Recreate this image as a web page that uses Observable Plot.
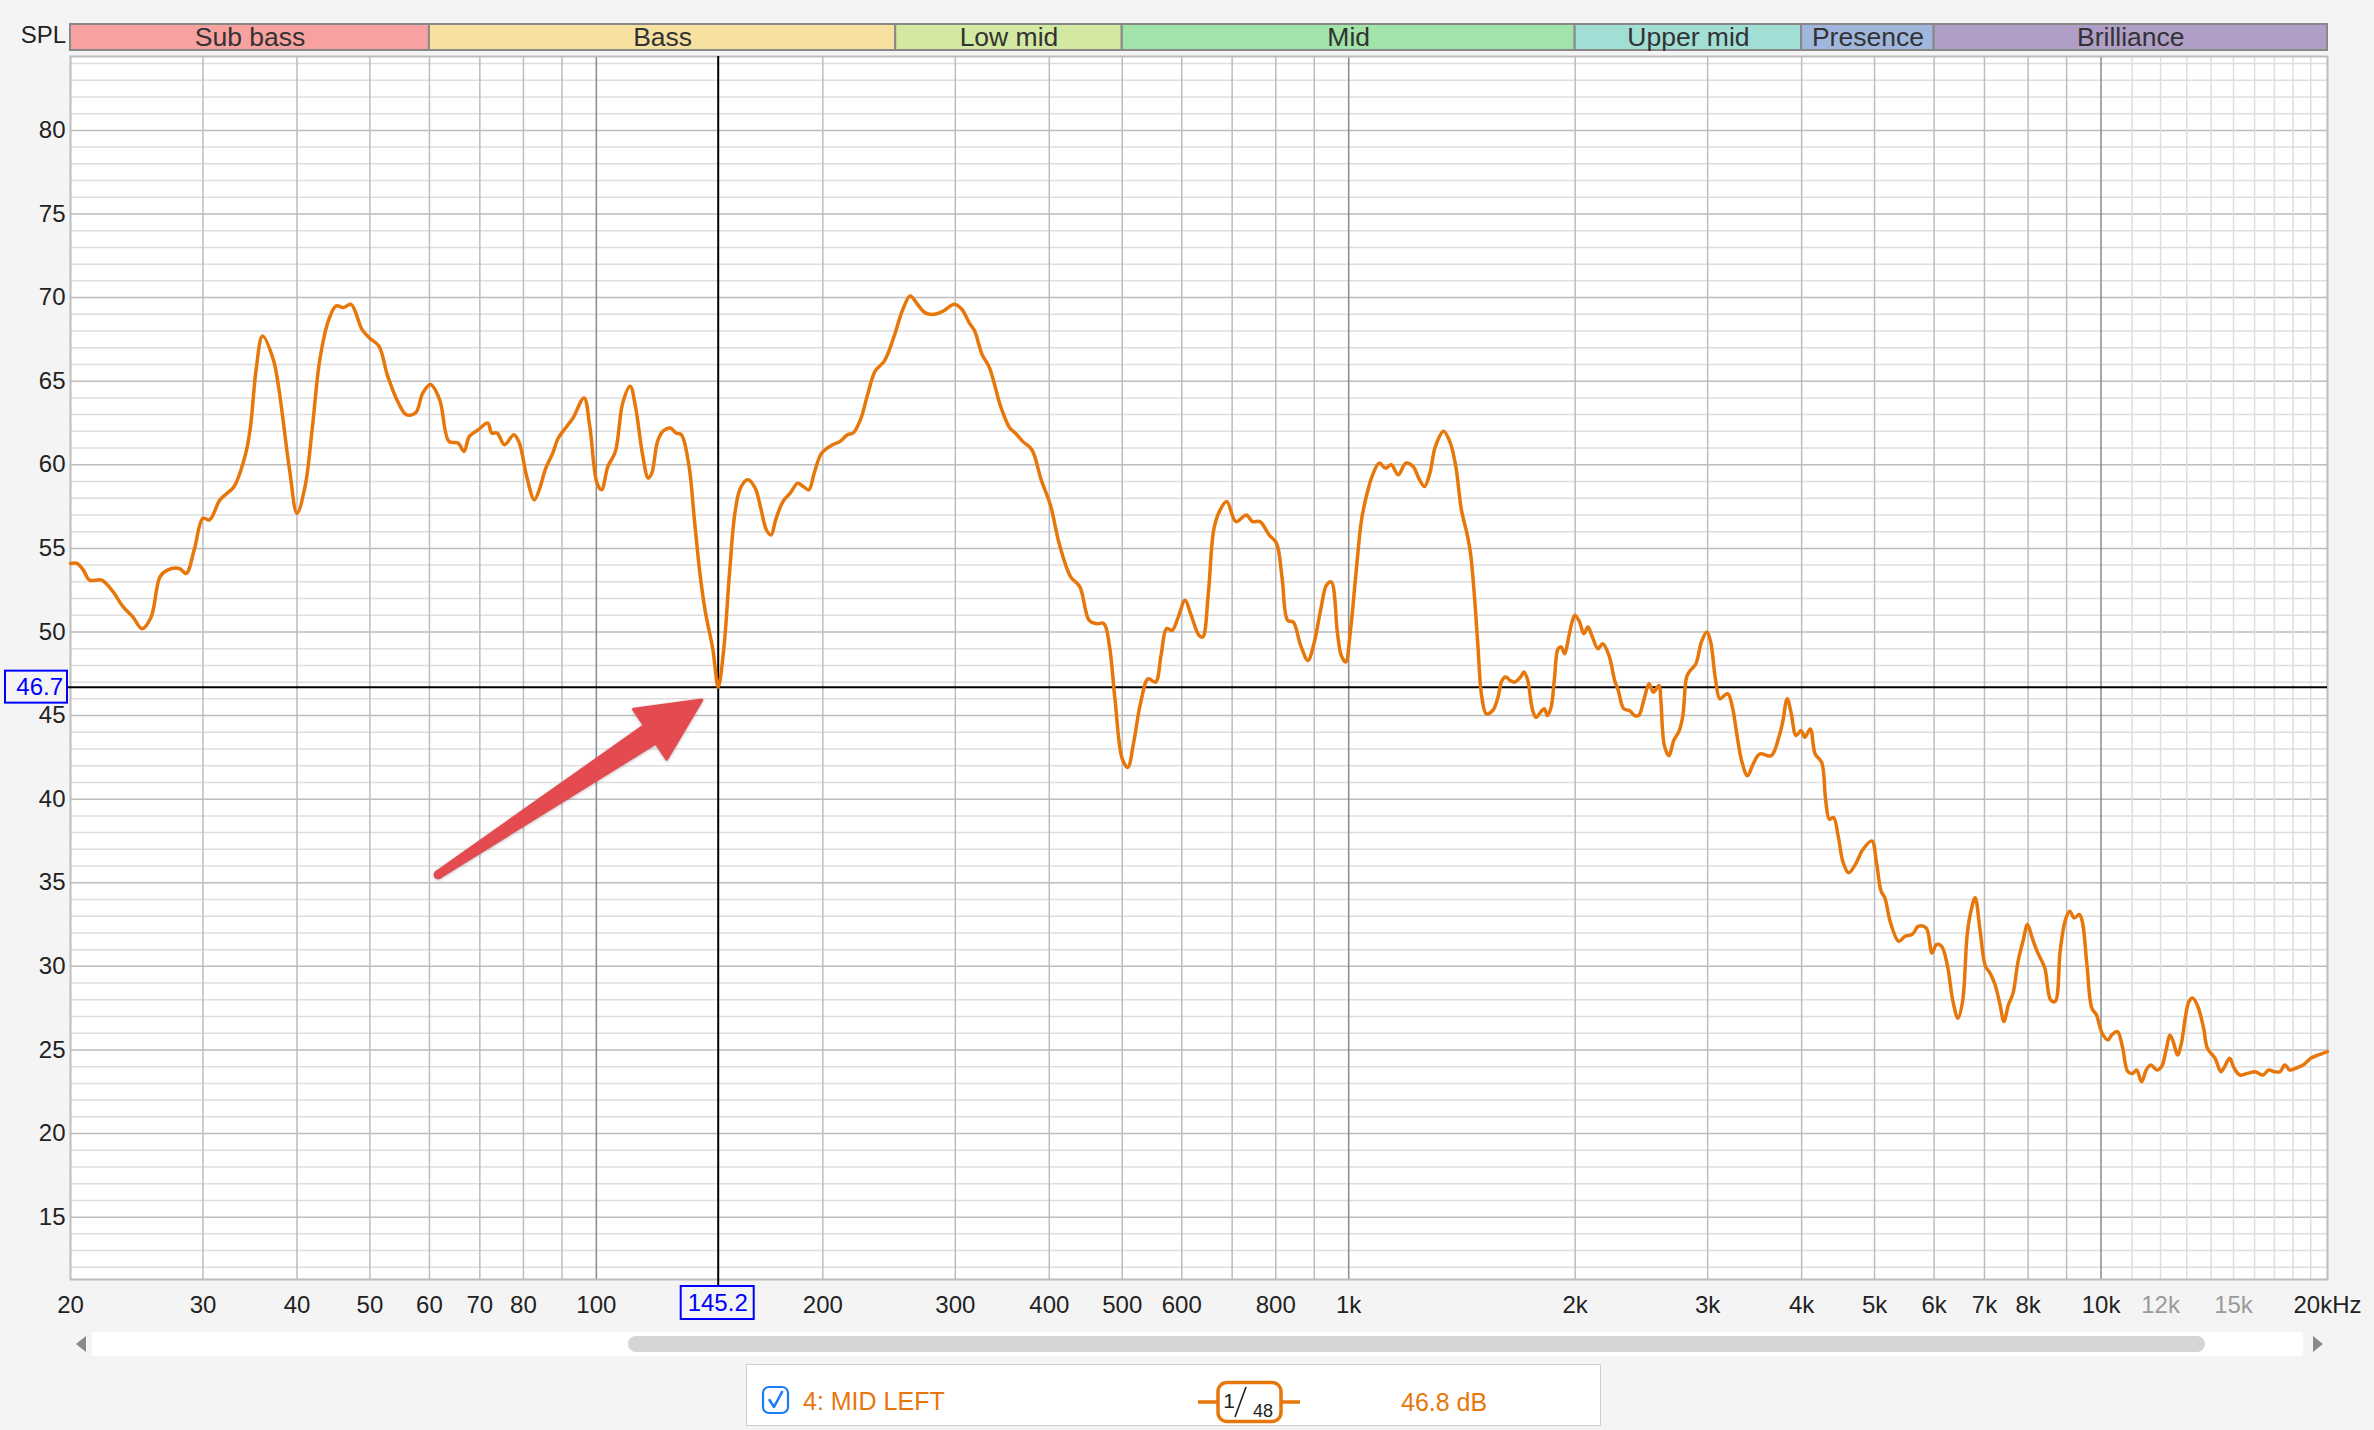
<!DOCTYPE html>
<html>
<head>
<meta charset="utf-8">
<script src="https://cdn.jsdelivr.net/npm/d3@7"></script>
<script src="https://cdn.jsdelivr.net/npm/@observablehq/plot@0.6"></script>
<style>
  html, body { margin: 0; padding: 0; background: #f4f4f4; }
  #root { position: relative; width: 2374px; height: 1430px; overflow: hidden;
          font-family: "Liberation Sans", Arial, Helvetica, sans-serif; }
  .abs { position: absolute; }
</style>
</head>
<body>
<div id="root"></div>
<script>
// ---------------- data ----------------
const bandNames   = ["Sub bass", "Bass", "Low mid", "Mid", "Upper mid", "Presence", "Brilliance"];
const bandEdgesHz = [20, 60, 250, 500, 2000, 4000, 6000, 20000];
const bandColors  = ["#f8a1a1", "#f7e1a0", "#d3e9a2", "#a1e3a9", "#a1ded6", "#a1b6dd", "#b09ec6"];

const yTicks = [15, 20, 25, 30, 35, 40, 45, 50, 55, 60, 65, 70, 75, 80];
const xTickValues = [20, 30, 40, 50, 60, 70, 80, 100, 200, 300, 400, 500, 600, 800, 1000,
                     2000, 3000, 4000, 5000, 6000, 7000, 8000, 10000, 20000];
const xTickLabels = ["20", "30", "40", "50", "60", "70", "80", "100", "200", "300", "400", "500", "600", "800", "1k",
                     "2k", "3k", "4k", "5k", "6k", "7k", "8k", "10k", "20kHz"];
const grayTickValues = [12000, 15000];
const grayTickLabels = ["12k", "15k"];
const gridMainHz = [30, 40, 50, 60, 70, 80, 90, 200, 300, 400, 500, 600, 700, 800, 900,
                    2000, 3000, 4000, 5000, 6000, 7000, 8000, 9000];
const gridDecadeHz = [100, 1000, 10000];
const gridFineHz = [11000, 12000, 13000, 14000, 15000, 16000, 17000, 18000, 19000];

const cursorHz = 145.2;
const cursorDb = 46.7;
const traceName = "4: MID LEFT";
const traceSmoothNum = "1";
const traceSmoothDen = "48";
const traceReading = "46.8 dB";

const arrowTail = [61.7, 35.45];   // [Hz, dB]
const arrowTip  = [138.3, 45.9];

// frequency response [Hz, dB]
const subBassPts = [[20,54.1],[20.4,54.1],[20.8,53.7],[21.2,53.1],[22.0,53.1],[22.7,52.5],[23.5,51.5],[24.2,50.9],[24.9,50.2],[25.6,50.9],[26.3,53.3],[26.9,53.7],[27.9,53.8],[28.5,53.5],[29.2,54.9],[30.0,56.8],[30.6,56.7],[31.6,57.9],[32.5,58.4],[33.0,58.7],[34.2,60.7],[34.7,62.3],[35.3,65.7],[36.0,67.7],[37.2,66.3],[37.8,64.7],[39.1,59.7],[40.0,57.1],[41.0,58.7],[41.9,62.1],[42.9,66.3],[44.1,68.7],[45.1,69.5],[46.1,69.4],[47.2,69.6],[48.8,68.1],[49.9,67.6],[51.4,67.1],[52.8,65.3],[54.7,63.6],[55.9,63.0],[57.5,63.1],[58.8,64.3]];
const bassPts = [[60.2,64.8],[61.9,63.9],[63.7,61.4],[65.5,61.3],[66.7,60.8],[67.8,61.7],[69.7,62.1],[71.7,62.5],[72.6,61.9],[73.8,61.9],[75.5,61.2],[77.7,61.8],[79.0,61.3],[80.8,59.3],[82.7,57.9],[84.1,58.6],[85.5,59.7],[87.5,60.7],[89.0,61.6],[91.0,62.2],[93.1,62.8],[96.3,64.0],[98.0,62.3],[100.2,58.9],[101.6,58.5],[103.6,59.9],[106.0,60.8],[108.4,63.7],[110.9,64.7],[112.7,63.5],[115.2,60.6],[117.2,59.2],[118.5,59.5],[120.6,61.4],[122.6,62.0],[125.4,62.2],[127.6,61.9],[129.7,61.8],[132.7,60.0],[135.0,56.7],[137.3,53.5],[139.6,51.2],[142.8,49.0],[145.2,46.7],[147.7,49.0],[150.3,53.5],[152.8,57.1],[155.4,58.6],[159.0,59.1],[162.6,58.6],[165.4,57.4],[168.3,56.1],[170.7,55.8],[173.1,56.7],[177.0,57.8],[181.0,58.3],[185.2,58.9],[188.4,58.7],[191.6,58.5],[194.8,59.5],[199.3,60.7],[206.1,61.2],[210.9,61.4],[215.7,61.8],[219.4,61.9],[224.4,62.7],[229.4,64.2],[234.7,65.6],[241.4,66.2],[248.4,67.6]];
const lowMidPts = [[255.5,69.3],[261.3,70.1],[267.2,69.6],[273.3,69.1],[281.2,69.0],[289.3,69.2],[299.2,69.6],[306.0,69.3],[313.0,68.5],[318.3,68.0],[325.6,66.6],[333.1,65.8],[344.6,63.5],[354.4,62.2],[360.4,61.9],[368.7,61.4],[379.2,60.9],[390.2,59.1],[401.3,57.6],[412.8,55.2],[427.0,53.3],[439.2,52.7],[451.8,50.7],[462.1,50.5],[472.7,50.5],[480.7,49.2],[489.0,46.0]];
const midPts = [[500.1,42.4],[508.7,41.9],[517.4,43.3],[529.2,45.8],[541.3,47.2],[553.7,47.0],[563.1,48.6],[572.7,50.2],[582.6,50.1],[592.5,50.8],[606.1,51.9],[616.4,51.1],[632.4,49.8],[639.7,49.7],[650.5,52.2],[661.6,56.1],[673.0,57.2],[688.4,57.8],[708.1,56.6],[731.0,57.0],[745.0,56.6],[762.1,56.6],[784.1,55.8],[801.8,55.3],[815.7,53.2],[829.5,50.7],[843.9,50.6],[863.2,49.2],[882.7,48.3],[898.0,49.2],[918.5,51.4],[934.1,52.8],[948.0,53.0],[966.4,49.9],[977.4,48.6],[990.7,48.2],[1005,50.0],[1023,53.6],[1040,56.7],[1058,58.3],[1076,59.4],[1098,60.1],[1119,59.8],[1139,60.0],[1164,59.4],[1191,60.1],[1218,59.9],[1239,59.2],[1261,58.7],[1282,59.5],[1304,61.1],[1337,62.0],[1365,61.3],[1388,59.9],[1412,57.3],[1436,55.9],[1452,54.7],[1469,52.2],[1485,49.2],[1502,46.2],[1524,45.1],[1554,45.3],[1577,46.0],[1599,47.1],[1617,47.3],[1639,47.1],[1663,47.0],[1692,47.3],[1710,47.6],[1730,47.1],[1754,45.4],[1774,44.9],[1806,45.3],[1821,45.4],[1837,45.0],[1858,45.5],[1877,47.2],[1898,49.0],[1916,49.1],[1937,48.7],[1959,49.6],[1981,50.6],[1999,51.0]];
const upperPts = [[2027,50.6],[2054,49.9],[2080,50.3],[2108,49.7],[2144,49.0],[2176,49.3],[2218,48.6],[2257,47.1],[2282,46.5],[2321,45.4],[2361,45.3],[2401,45.0],[2429,45.0],[2470,46.0],[2507,46.9],[2541,46.4],[2585,46.8],[2599,46.0],[2628,43.2],[2665,42.6],[2704,43.5],[2750,44.1],[2781,45.0],[2813,47.3],[2845,47.7],[2894,48.1],[2943,49.4],[2993,50.0],[3028,49.4],[3072,47.2],[3114,46.0],[3157,46.2],[3193,46.3],[3240,45.4],[3277,44.0],[3333,42.2],[3390,41.4],[3448,42.1],[3518,42.7],[3644,42.6],[3730,43.7],[3774,44.6],[3827,46.0],[3872,45.2],[3932,43.8],[3993,44.1],[4039,43.7],[4107,44.2],[4169,42.7],[4253,42.2],[4304,40.0],[4354,38.8],[4410,38.9],[4473,37.8],[4542,36.2],[4618,35.6],[4715,36.1],[4827,37.0],[4959,37.5],[5030,36.2],[5101,34.5],[5160,34.1],[5251,32.6],[5383,31.5],[5491,31.8],[5608,31.9],[5721,32.4],[5856,32.3],[5961,30.8]];
const brillPts = [[6043,31.3],[6137,31.2],[6246,30.1],[6356,27.9],[6454,26.9],[6546,27.9],[6639,31.9],[6716,33.3],[6803,34.1],[6900,32.3],[7021,30.0],[7120,29.6],[7230,28.9],[7342,27.7],[7428,26.7],[7533,27.7],[7640,28.4],[7758,30.3],[7875,31.5],[7986,32.5],[8100,31.7],[8224,30.9],[8418,29.9],[8569,28.0],[8690,27.9],[8824,30.9],[8957,32.7],[9084,33.3],[9213,32.9],[9355,33.1],[9441,32.7],[9578,30.1],[9723,27.5],[9860,27.1],[10034,26.0],[10214,25.6],[10333,25.9],[10515,26.1],[10677,25.2],[10855,23.7],[11022,23.6],[11151,23.8],[11323,23.1],[11484,23.8],[11643,24.1],[11866,23.8],[12034,24.0],[12205,25.0],[12348,25.9],[12492,25.4],[12638,24.7],[12790,25.4],[12939,26.9],[13091,27.9],[13244,28.1],[13448,27.6],[13689,26.3],[13849,25.1],[14179,24.5],[14429,23.7],[14597,24.0],[14823,24.5],[15033,23.9],[15297,23.5],[15662,23.6],[16031,23.7],[16413,23.5],[16702,23.8],[17001,23.7],[17300,23.7],[17546,24.1],[17816,23.8],[18130,23.9],[18562,24.1],[18998,24.5],[19451,24.7],[20000,24.9]];

// ---------------- styling ----------------
const FONT = '"Liberation Sans", Arial, Helvetica, sans-serif';
const ORANGE = "#e8770b";
const ARROW_RED = "#e34b50";
const CURSOR_BLUE = "#0000ff";

const response = [...subBassPts, ...bassPts, ...lowMidPts, ...midPts, ...upperPts, ...brillPts]
  .map(([f, db]) => ({f, db}));
const bands = bandNames.map((name, i) => ({name, lo: bandEdgesHz[i], hi: bandEdgesHz[i + 1], color: bandColors[i]}));
const minorDb = d3.range(12, 85).filter(v => v % 5 !== 0);
const xLabelOf = new Map(xTickValues.map((v, i) => [v, xTickLabels[i]]));
const grayLabelOf = new Map(grayTickValues.map((v, i) => [v, grayTickLabels[i]]));

const W = 2374, M_LEFT = 70, M_RIGHT = 47;
const xScale = {type: "log", domain: [20, 20000], label: null};

// ---------------- band strip ----------------
const bandPlot = Plot.plot({
  width: W, height: 28,
  marginLeft: M_LEFT, marginRight: M_RIGHT, marginTop: 0, marginBottom: 0,
  x: {...xScale, axis: null},
  y: {domain: [0, 1], axis: null},
  color: {type: "identity"},
  style: {background: "transparent", fontFamily: FONT, overflow: "visible"},
  marks: [
    Plot.rect(bands, {x1: "lo", x2: "hi", y1: () => 0, y2: () => 1, fill: "color",
                      stroke: "#888", strokeWidth: 2, insetTop: 1, insetBottom: 1}),
    Plot.text(bands, {x: d => Math.sqrt(d.lo * d.hi), y: () => 0.5, text: "name",
                      fontSize: 26.5, fill: "#333"})
  ]
});

// ---------------- custom marks ----------------
const arrowData = [{f1: arrowTail[0], db1: arrowTail[1], f2: arrowTip[0], db2: arrowTip[1]}];
const arrowMark = Plot.link(arrowData, {
  x1: "f1", y1: "db1", x2: "f2", y2: "db2",
  render(index, scales) {
    const d = arrowData[0];
    const tx = scales.x(d.f1), ty = scales.y(d.db1);
    const px = scales.x(d.f2), py = scales.y(d.db2);
    const dx = px - tx, dy = py - ty, len = Math.hypot(dx, dy);
    const ux = dx / len, uy = dy / len, nx = -uy, ny = ux;
    const head = 62, neckW = 10.5, wingW = 30, tailW = 3;
    const bx = px - ux * head, by = py - uy * head;
    const pts = [
      [tx + nx * tailW, ty + ny * tailW],
      [bx + nx * neckW, by + ny * neckW],
      [bx + nx * wingW, by + ny * wingW],
      [px, py],
      [bx - nx * wingW, by - ny * wingW],
      [bx - nx * neckW, by - ny * neckW],
      [tx - nx * tailW, ty - ny * tailW]
    ];
    const g = d3.create("svg:g").attr("style", "filter: drop-shadow(0px 1px 1.5px rgba(0,0,0,0.25))");
    g.append("path")
      .attr("d", "M" + pts.map(p => p.join(",")).join("L") + "Z")
      .attr("fill", ARROW_RED).attr("stroke", ARROW_RED)
      .attr("stroke-width", 3).attr("stroke-linejoin", "round");
    g.append("circle").attr("cx", tx).attr("cy", ty).attr("r", 4.5).attr("fill", ARROW_RED);
    return g.node();
  }
});

const cursorData = [{f: cursorHz, db: cursorDb}];
const cursorLabels = Plot.dot(cursorData, {
  x: "f", y: "db",
  render(index, scales, values, dims) {
    const cx = scales.x(cursorHz), cy = scales.y(cursorDb);
    const bottom = dims.height - dims.marginBottom;
    const g = d3.create("svg:g").attr("font-family", FONT).attr("font-size", 24);
    g.append("rect").attr("x", cx - 37).attr("y", bottom + 7).attr("width", 73).attr("height", 33)
      .attr("fill", "none").attr("stroke", CURSOR_BLUE).attr("stroke-width", 2);
    g.append("text").attr("x", cx).attr("y", bottom + 7 + 16.5).attr("dy", "0.35em")
      .attr("text-anchor", "middle").attr("fill", CURSOR_BLUE).text(cursorHz.toFixed(1));
    const bx = dims.marginLeft - 65;
    g.append("rect").attr("x", bx).attr("y", cy - 16).attr("width", 62).attr("height", 32)
      .attr("fill", "none").attr("stroke", CURSOR_BLUE).attr("stroke-width", 2);
    g.append("text").attr("x", dims.marginLeft - 7).attr("y", cy).attr("dy", "0.35em")
      .attr("text-anchor", "end").attr("fill", CURSOR_BLUE).text(cursorDb.toFixed(1));
    return g.node();
  }
});

// ---------------- main chart ----------------
const gridStyle = {strokeOpacity: 1, strokeWidth: 1.5};
const chart = Plot.plot({
  width: W, height: 1330,
  marginLeft: M_LEFT, marginRight: M_RIGHT, marginTop: 56, marginBottom: 51,
  x: xScale,
  y: {domain: [11.27, 84.42], label: null},
  style: {background: "transparent", fontFamily: FONT, fontSize: "24px", color: "#222", overflow: "visible"},
  marks: [
    Plot.frame({fill: "#fff", stroke: null}),
    Plot.gridY(minorDb, {...gridStyle, stroke: "#dedede"}),
    Plot.gridY(yTicks, {...gridStyle, stroke: "#bdbdbd"}),
    Plot.gridX(gridFineHz, {...gridStyle, stroke: "#dedede"}),
    Plot.gridX(gridMainHz, {...gridStyle, stroke: "#bdbdbd"}),
    Plot.gridX(gridDecadeHz, {...gridStyle, stroke: "#8a8a8a"}),
    Plot.frame({stroke: "#bdbdbd", strokeWidth: 2}),
    Plot.ruleY(cursorData, {y: "db", stroke: "#000", strokeWidth: 2, insetLeft: -3}),
    Plot.ruleX(cursorData, {x: "f", stroke: "#000", strokeWidth: 2, insetBottom: -7}),
    Plot.line(response, {x: "f", y: "db", stroke: ORANGE, strokeWidth: 3.5, curve: "catmull-rom"}),
    arrowMark,
    cursorLabels,
    Plot.axisY(yTicks, {tickSize: 0, tickPadding: 5, fontSize: 24, fill: "#222", label: null}),
    Plot.axisX(xTickValues, {tickSize: 0, tickPadding: 16, fontSize: 24, fill: "#222", label: null,
                             tickFormat: d => xLabelOf.get(d)}),
    Plot.axisX(grayTickValues, {tickSize: 0, tickPadding: 16, fontSize: 24, fill: "#9a9a9a", label: null,
                                tickFormat: d => grayLabelOf.get(d)})
  ]
});

// ---------------- assemble ----------------
const root = document.getElementById("root");
chart.style.position = "absolute"; chart.style.left = "0px"; chart.style.top = "0px";
root.appendChild(chart);
bandPlot.style.position = "absolute"; bandPlot.style.left = "0px"; bandPlot.style.top = "23px";
root.appendChild(bandPlot);

root.insertAdjacentHTML("beforeend", `
  <div class="abs" style="left:0;width:66px;top:21px;text-align:right;font-size:24px;line-height:28px;color:#222">SPL</div>
  <div class="abs" style="left:92px;top:1332px;width:2211px;height:24px;background:#fff"></div>
  <div class="abs" style="left:628px;top:1336px;width:1577px;height:16px;background:#d6d6d6;border-radius:8px"></div>
  <div class="abs" style="left:76px;top:1336px;width:0;height:0;border-top:8px solid transparent;border-bottom:8px solid transparent;border-right:10px solid #8a8a8a"></div>
  <div class="abs" style="left:2313px;top:1336px;width:0;height:0;border-top:8px solid transparent;border-bottom:8px solid transparent;border-left:10px solid #8a8a8a"></div>
  <div class="abs" style="left:746px;top:1364px;width:855px;height:62px;background:#fff;border:1px solid #cfcfcf;box-sizing:border-box"></div>
  <svg class="abs" style="left:761px;top:1385px" width="30" height="30">
    <rect x="2" y="2" width="25" height="26" rx="6" fill="#fff" stroke="#1b7cf6" stroke-width="2.2"/>
    <path d="M8.5 15 L13 22 L21 7" fill="none" stroke="#1b7cf6" stroke-width="2.6" stroke-linecap="round" stroke-linejoin="round"/>
  </svg>
  <div class="abs" style="left:803px;top:1386px;font-size:25px;line-height:30px;color:${ORANGE}">${traceName}</div>
  <svg class="abs" style="left:1197px;top:1380px" width="104" height="44" font-family='${FONT}'>
    <line x1="1" y1="22" x2="21" y2="22" stroke="${ORANGE}" stroke-width="3.5"/>
    <line x1="84" y1="22" x2="103" y2="22" stroke="${ORANGE}" stroke-width="3.5"/>
    <rect x="21" y="2.5" width="63" height="39" rx="9" fill="#fff" stroke="${ORANGE}" stroke-width="3.5"/>
    <text x="32" y="28" font-size="21" fill="#222" text-anchor="middle">${traceSmoothNum}</text>
    <line x1="38" y1="37" x2="49" y2="7" stroke="#222" stroke-width="1.6"/>
    <text x="66" y="37" font-size="18" fill="#222" text-anchor="middle">${traceSmoothDen}</text>
  </svg>
  <div class="abs" style="left:1401px;top:1387px;font-size:25px;line-height:30px;color:${ORANGE}">${traceReading}</div>
`);
</script>
</body>
</html>
